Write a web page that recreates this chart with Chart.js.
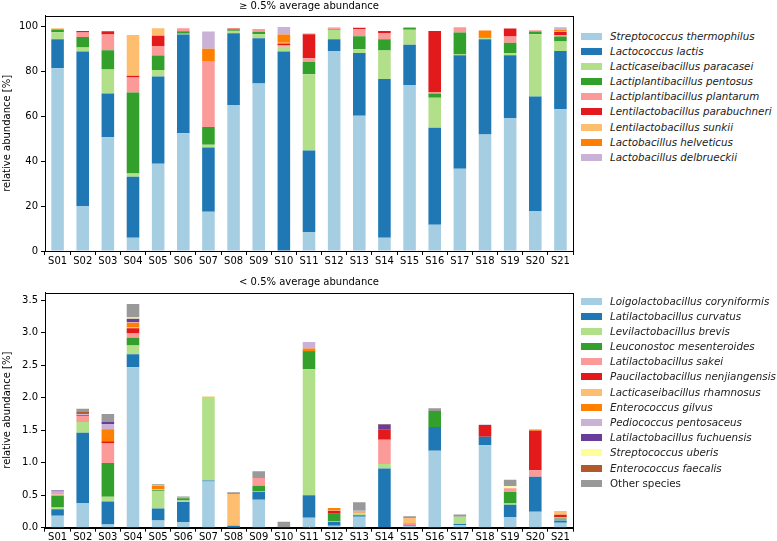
<!DOCTYPE html>
<html>
<head>
<meta charset="utf-8">
<script src="https://cdn.jsdelivr.net/npm/chart.js@4.4.1/dist/chart.umd.min.js"></script>
<style>
  body { margin: 0; background: #fff; font-family: "DejaVu Sans", sans-serif; }
  #page { position: relative; width: 777px; height: 541px; overflow: hidden; }
  canvas { position: absolute; left: 0; }
  .ttl { position: absolute; font-size: 10px; line-height: 12px; color: #000; white-space: nowrap; transform: translateX(-50%); }
  .legend { position: absolute; left: 581px; font-size: 10.3px; color: #222; }
  .legend .row { position: relative; height: 15.2px; line-height: 15.2px; white-space: nowrap; }
  .legend .sw { position: absolute; left: 0; top: 4px; width: 21px; height: 7px; }
  .legend .lb { position: absolute; left: 29px; top: 0; font-style: italic; }
  .legend .lb.plain { font-style: normal; }
</style>
</head>
<body>
<div id="page">
  <canvas id="topChart" width="580" height="270" style="top:0"></canvas>
  <canvas id="botChart" width="580" height="271" style="top:270px"></canvas>
  <div class="ttl" style="left:309px; top:-0.5px">≥ 0.5% average abundance</div>
  <div class="ttl" style="left:309px; top:275.5px">&lt; 0.5% average abundance</div>
  <div class="legend" id="topLegend" style="top:28.5px"></div>
  <div class="legend" id="botLegend" style="top:293.5px"></div>
</div>

<script>
var samples = ["S01","S02","S03","S04","S05","S06","S07","S08","S09","S10","S11","S12","S13","S14","S15","S16","S17","S18","S19","S20","S21"];

// >= 0.5% average abundance
var thermophilus = [81.6, 20.1, 50.8, 5.9, 38.9, 52.5, 17.5, 65.1, 74.7, 0, 8.5, 89.3, 60.3, 5.9, 74.1, 11.7, 36.7, 52.0, 59.4, 17.8, 63.2];
var lactis       = [12.9, 68.9, 19.5, 27.2, 39.0, 44.1, 28.7, 32.1, 20.2, 89.0, 36.4, 5.2, 28.1, 70.9, 17.9, 43.3, 50.7, 42.5, 28.0, 51.1, 26.1];
var paracasei    = [3.1, 1.8, 10.7, 1.5, 2.9, 0.4, 1.2, 1.0, 1.8, 2.2, 34.0, 4.2, 1.6, 12.7, 6.7, 13.4, 0.3, 0.4, 1.0, 27.8, 4.2];
var pentosus     = [1.2, 4.7, 8.6, 36.1, 6.4, 1.1, 7.9, 0.3, 1.1, 0, 5.5, 0.4, 5.8, 5.0, 0.9, 1.9, 9.8, 0.3, 4.5, 1.2, 2.2];
var plantarum    = [0.3, 2.0, 7.0, 6.7, 4.3, 1.3, 29.5, 0.2, 1.3, 0.5, 1.6, 0.3, 3.2, 2.8, 0.3, 0.7, 2.4, 0, 2.8, 0.6, 0.6];
var parabuchneri = [0, 0.7, 1.5, 0.8, 4.5, 0, 0, 0.6, 0, 0.9, 10.7, 0.2, 0.6, 0.9, 0, 27.2, 0, 0, 3.6, 0, 1.5];
var sunkii       = [0.3, 0, 0, 18.2, 3.4, 0, 0, 0, 0, 0.3, 0.5, 0, 0, 0, 0, 0, 0, 0, 0, 0, 0.3];
var helveticus   = [0, 0, 0, 0, 0, 0, 5.4, 0, 0, 3.7, 0, 0, 0, 0, 0, 0, 0, 3.2, 0, 0, 0.5];
var delbrueckii  = [0, 0, 0, 0, 0, 0, 7.7, 0, 0, 3.4, 0, 0, 0, 0, 0, 0, 0, 0, 0, 0, 1.2];

// < 0.5% average abundance
var coryniformis  = [0.185, 0.38, 0.05, 2.47, 0.11, 0.087, 0.71, 0.005, 0.43, 0, 0.154, 0.03, 0.17, 0, 0.03, 1.185, 0.036, 1.27, 0.164, 0.246, 0.077];
var curvatus      = [0.10, 1.08, 0.355, 0.20, 0.185, 0.31, 0.015, 0.025, 0.125, 0, 0.344, 0.06, 0.02, 0.913, 0.01, 0.365, 0.02, 0.13, 0.19, 0.54, 0.035];
var brevis        = [0.026, 0.17, 0.07, 0.135, 0.27, 0.02, 1.285, 0, 0.005, 0, 1.94, 0.01, 0.025, 0.067, 0, 0, 0.114, 0, 0.02, 0, 0.01];
var mesenteroides = [0.18, 0.01, 0.52, 0.12, 0.01, 0.035, 0, 0, 0.085, 0, 0.27, 0.115, 0, 0, 0, 0.245, 0, 0, 0.175, 0, 0.02];
var sakei         = [0.02, 0.08, 0.30, 0.065, 0.005, 0.01, 0, 0, 0.12, 0, 0, 0, 0, 0.374, 0.01, 0, 0, 0, 0.06, 0.1, 0.02];
var nenjiangensis = [0, 0.01, 0.035, 0.08, 0, 0, 0, 0, 0, 0, 0.01, 0.045, 0, 0.16, 0.01, 0, 0, 0.18, 0, 0.605, 0.036];
var rhamnosus     = [0.01, 0.005, 0, 0.01, 0.015, 0, 0.01, 0.49, 0, 0, 0, 0.01, 0.01, 0, 0.08, 0, 0, 0, 0, 0, 0.06];
var gilvus        = [0.015, 0, 0.185, 0.075, 0.045, 0, 0, 0, 0, 0, 0.04, 0.035, 0.01, 0, 0.01, 0, 0, 0, 0, 0.02, 0];
var pentosaceus   = [0.02, 0.01, 0.08, 0.01, 0.01, 0, 0, 0, 0, 0, 0.10, 0, 0.025, 0, 0, 0, 0, 0.01, 0, 0, 0];
var fuchuensis    = [0.015, 0.015, 0.03, 0.05, 0, 0, 0, 0, 0, 0, 0, 0, 0, 0.073, 0, 0, 0, 0, 0, 0, 0];
var uberis        = [0, 0, 0, 0.02, 0, 0, 0.005, 0, 0, 0, 0, 0, 0, 0, 0, 0, 0, 0, 0.03, 0, 0];
var faecalis      = [0, 0.02, 0, 0, 0, 0, 0, 0, 0, 0, 0, 0, 0, 0.01, 0, 0, 0, 0, 0, 0, 0];
var otherSpecies  = [0.005, 0.05, 0.125, 0.21, 0.02, 0.02, 0, 0.025, 0.105, 0.09, 0, 0, 0.13, 0, 0.025, 0.045, 0.035, 0, 0.1, 0, 0];

var topTicks = [0, 20, 40, 60, 80, 100];
var botTicks = [0, 0.5, 1.0, 1.5, 2.0, 2.5, 3.0, 3.5];

var paired = ["#a6cee3","#1f78b4","#b2df8a","#33a02c","#fb9a99","#e31a1c","#fdbf6f","#ff7f00","#cab2d6","#6a3d9a","#ffff99","#b15928"];

var topSeries = [
  ["Streptococcus thermophilus", thermophilus],
  ["Lactococcus lactis", lactis],
  ["Lacticaseibacillus paracasei", paracasei],
  ["Lactiplantibacillus pentosus", pentosus],
  ["Lactiplantibacillus plantarum", plantarum],
  ["Lentilactobacillus parabuchneri", parabuchneri],
  ["Lentilactobacillus sunkii", sunkii],
  ["Lactobacillus helveticus", helveticus],
  ["Lactobacillus delbrueckii", delbrueckii]
];
var botSeries = [
  ["Loigolactobacillus coryniformis", coryniformis],
  ["Latilactobacillus curvatus", curvatus],
  ["Levilactobacillus brevis", brevis],
  ["Leuconostoc mesenteroides", mesenteroides],
  ["Latilactobacillus sakei", sakei],
  ["Paucilactobacillus nenjiangensis", nenjiangensis],
  ["Lacticaseibacillus rhamnosus", rhamnosus],
  ["Enterococcus gilvus", gilvus],
  ["Pediococcus pentosaceus", pentosaceus],
  ["Latilactobacillus fuchuensis", fuchuensis],
  ["Streptococcus uberis", uberis],
  ["Enterococcus faecalis", faecalis],
  ["Other species", otherSpecies]
];

function colorFor(i) { return i < paired.length ? paired[i] : "#999999"; }

var frame = {
  id: 'frame',
  afterDraw: function(chart) {
    var a = chart.chartArea, ctx = chart.ctx;
    ctx.save();
    ctx.strokeStyle = '#000';
    ctx.lineWidth = 1;
    ctx.strokeRect(Math.round(a.left) + 0.5, Math.round(a.top) + 0.5, Math.round(a.right - a.left), Math.round(a.bottom - a.top));
    ctx.restore();
  }
};

function makeChart(id, series, ymax, ticks, pad, xHeight) {
  var datasets = series.map(function(s, i) {
    return {
      label: s[0],
      data: s[1],
      backgroundColor: colorFor(i),
      borderWidth: 0,
      categoryPercentage: 1,
      barPercentage: 0.5
    };
  });
  var font = { family: "DejaVu Sans", size: 10 };
  return new Chart(document.getElementById(id).getContext("2d"), {
    type: 'bar',
    data: { labels: samples, datasets: datasets },
    plugins: [frame],
    options: {
      responsive: false,
      animation: false,
      devicePixelRatio: 1,
      layout: { padding: pad },
      plugins: { legend: { display: false }, tooltip: { enabled: false } },
      scales: {
        x: {
          stacked: true,
          grid: { display: true, drawOnChartArea: false, tickLength: 4, tickColor: '#000' },
          border: { display: true, color: '#000' },
          ticks: { color: '#000', font: font, padding: 0, maxRotation: 0, autoSkip: false },
          afterFit: function(scale) { scale.height = xHeight; }
        },
        y: {
          stacked: true,
          min: 0,
          max: ymax,
          grid: { display: true, drawOnChartArea: false, tickLength: 4, tickColor: '#000' },
          border: { display: true, color: '#000' },
          ticks: {
            color: '#000', font: font, padding: 3,
            callback: function(v) { return ymax > 10 ? v : v.toFixed(1); }
          },
          title: { display: true, text: 'relative abundance [%]', color: '#000', font: font, padding: { top: 1, bottom: 0 } },
          afterBuildTicks: function(scale) { scale.ticks = ticks.map(function(v) { return { value: v }; }); },
          afterFit: function(scale) { scale.width = 45; }
        }
      }
    }
  });
}

makeChart("topChart", topSeries, 105, topTicks, { top: 15.7, right: 7, left: 0, bottom: 0 }, 19);
makeChart("botChart", botSeries, 3.617, botTicks, { top: 22.7, right: 7, left: 0, bottom: 0 }, 13.3);

function buildLegend(id, series) {
  var box = document.getElementById(id);
  series.forEach(function(s, i) {
    var row = document.createElement('div');
    row.className = 'row';
    var sw = document.createElement('span');
    sw.className = 'sw';
    sw.style.background = colorFor(i);
    var lb = document.createElement('span');
    lb.className = 'lb' + (s[0] === 'Other species' ? ' plain' : '');
    lb.textContent = s[0];
    row.appendChild(sw);
    row.appendChild(lb);
    box.appendChild(row);
  });
}
buildLegend("topLegend", topSeries);
buildLegend("botLegend", botSeries);
</script>
</body>
</html>
